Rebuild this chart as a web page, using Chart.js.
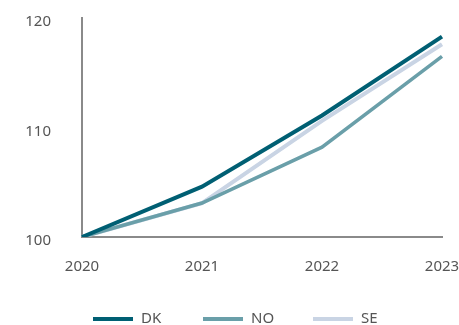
<!DOCTYPE html>
<html>
<head>
<meta charset="utf-8">
<script src="https://cdn.jsdelivr.net/npm/chart.js@4/dist/chart.umd.min.js"></script>
<style>
  html, body { margin: 0; padding: 0; background: #fff; }
  #wrap { width: 459px; height: 325px; position: relative; }
</style>
</head>
<body>
<div id="wrap"><canvas id="chart"></canvas></div>
<script>
const years = ["2020", "2021", "2022", "2023"];
const dk = [100, 104.6, 111.1, 118.3];
const no = [100, 103.1, 108.2, 116.5];
const se = [100, 103.1, 110.6, 117.6];
const yTicks = [100, 110, 120];

const FONT = "'Noto Sans', 'Open Sans', sans-serif";
const TEXT = "#555555";

// legend drawn straight onto the canvas under the x axis
const bottomLegend = {
  id: "bottomLegend",
  afterDraw(chart) {
    const ctx = chart.ctx;
    ctx.save();
    chart.data.datasets.forEach((ds, i) => {
      const x0 = 93 + i * 110;
      const y = 319;
      ctx.strokeStyle = ds.borderColor;
      ctx.lineWidth = 4;
      ctx.beginPath();
      ctx.moveTo(x0, y);
      ctx.lineTo(x0 + 40, y);
      ctx.stroke();
      ctx.fillStyle = TEXT;
      ctx.font = "15px " + FONT;
      ctx.textBaseline = "middle";
      ctx.fillText(ds.label, x0 + 48, y);
    });
    ctx.restore();
  }
};

new Chart(document.getElementById("chart"), {
  type: "line",
  data: {
    labels: years,
    datasets: [
      { label: "DK", data: dk, borderColor: "#005f73", borderWidth: 4 },
      { label: "NO", data: no, borderColor: "#6a9fa9", borderWidth: 3.5 },
      { label: "SE", data: se, borderColor: "#c9d4e4", borderWidth: 4 }
    ]
  },
  options: {
    responsive: true,
    maintainAspectRatio: false,
    animation: false,
    elements: { point: { radius: 0 }, line: { tension: 0 } },
    layout: { padding: { top: 18, right: 17, left: 0, bottom: 0 } },
    plugins: { legend: { display: false }, tooltip: { enabled: false } },
    scales: {
      x: {
        grid: { display: false },
        border: { color: "#8a8a8a", width: 2 },
        ticks: { color: TEXT, font: { family: FONT, size: 15 }, padding: 13, maxRotation: 0 },
        afterFit: s => {
          s.height = 88;
          s.paddingLeft = 0;
          s.paddingRight = 0;
        }
      },
      y: {
        min: 100,
        max: 120,
        grid: { display: false },
        border: { color: "#8a8a8a", width: 2 },
        afterBuildTicks: s => { s.ticks = yTicks.map(v => ({ value: v })); },
        ticks: { color: TEXT, font: { family: FONT, size: 15 }, padding: 23, labelOffset: 4 },
        afterFit: s => {
          s.width = 82;
          s.paddingTop = 0;
          s.paddingBottom = 0;
        }
      }
    }
  },
  plugins: [bottomLegend]
});
</script>
</body>
</html>
